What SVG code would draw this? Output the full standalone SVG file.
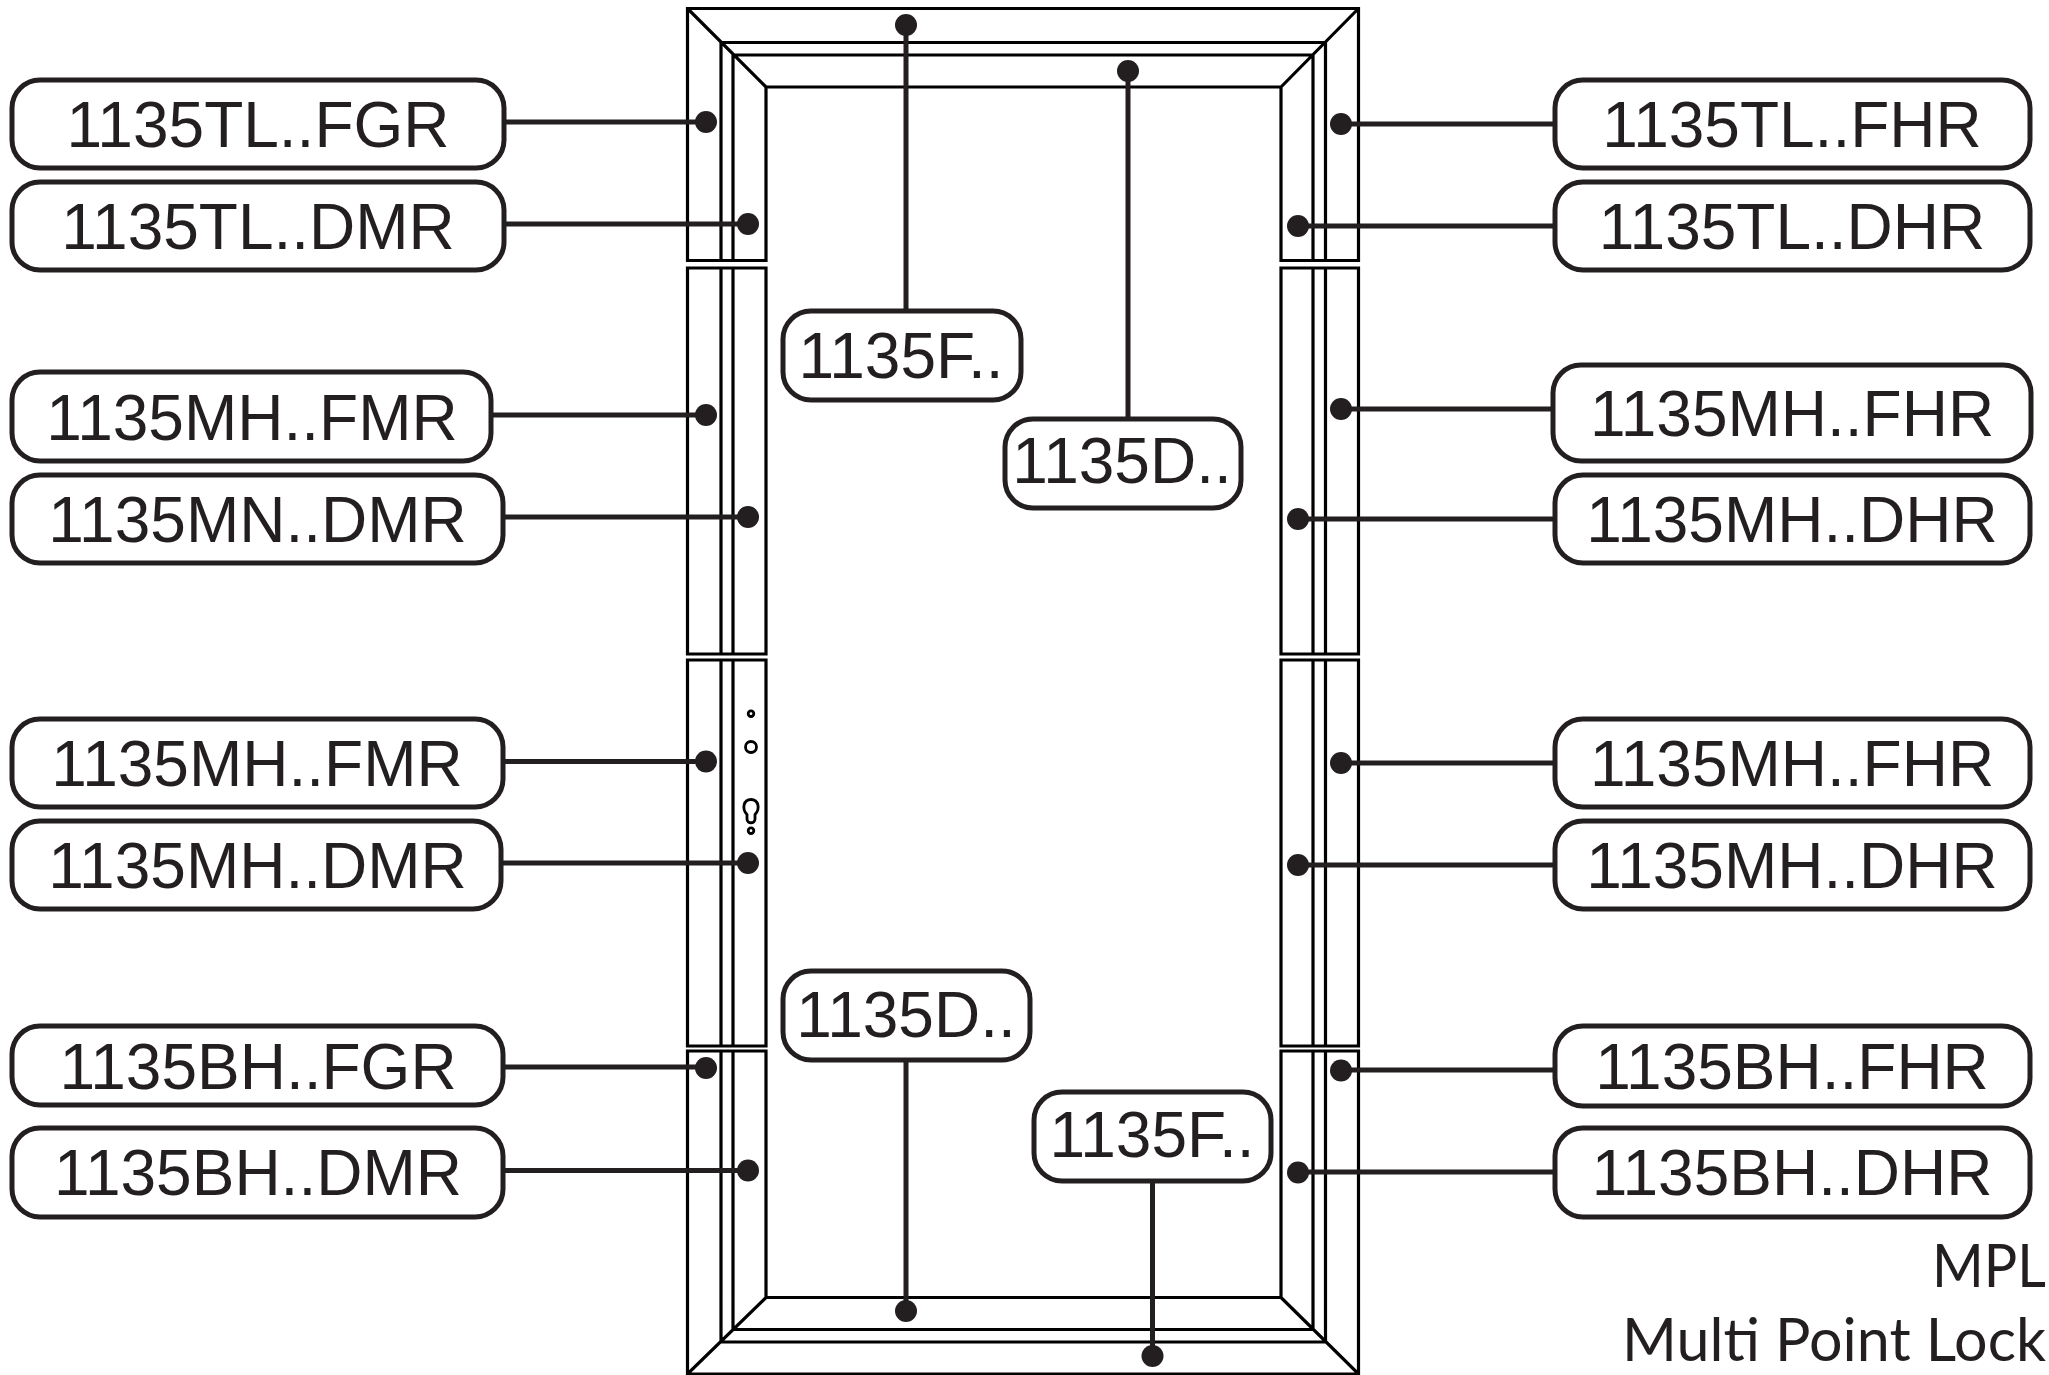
<svg xmlns="http://www.w3.org/2000/svg" width="2049" height="1375" viewBox="0 0 2049 1375">
<style>
.f{fill:none;stroke:#000;stroke-width:3.2}
.b{fill:#fff;stroke:#231f20;stroke-width:5}
.c{fill:none;stroke:#231f20;stroke-width:5}
.d{fill:#231f20}
.k{fill:none;stroke:#000;stroke-width:2.8}
text{font-family:"Liberation Sans",Arial,sans-serif;font-size:64px;fill:#231f20;text-anchor:middle}
.n{font-family:Lato,"Liberation Sans",sans-serif;font-size:60px;text-anchor:start}
</style>
<rect width="2049" height="1375" fill="#fff"/>
<g id="frame">
<path class="f" d="M687.5 260.5V8.5H1358.5V260.5H1281V87H766V260.5ZM687.5 8.5L766 87M1358.5 8.5L1281 87M721 42.5H1325.5M733 55H1313M721 42.5V260.5M733 55V260.5M1325.5 42.500V260.5M1313 55V260.5"/>
<path class="f" d="M687.5 268H766V654H687.5ZM721 268V654M733 268V654M1281 268H1358.5V654H1281ZM1313 268V654M1325.5 268V654"/>
<path class="f" d="M687.5 660H766V1046H687.5ZM721 660V1046M733 660V1046M1281 660H1358.5V1046H1281ZM1313 660V1046M1325.5 660V1046"/>
<path class="f" d="M687.5 1051V1374H1358.5V1051H1281V1297.5H766V1051ZM687.5 1374L766 1297.5M1358.5 1374L1281 1297.5M721 1342H1325.5M733 1329.5H1313M721 1051V1342M733 1051V1329.5M1325.5 1051V1342M1313 1051V1329.5"/>
<g id="lock">
<circle class="k" cx="751" cy="713.7" r="2.8"/>
<circle class="k" cx="751" cy="747" r="5.5"/>
<path class="k" d="M747 819V814.500C741.500 809 743.500 799.500 751 799.500C758.500 799.500 760.500 809 755 814.500V819C755 824 747 824 747 819Z"/>
<circle class="k" cx="751" cy="830.7" r="2.8"/>
</g>
</g>
<g id="connectors">
<path class="c" d="M504 122H706M504 224H748M491 415H706M503 517H748M503 761.500H706M501 863H748M503 1067H706M503 1170.500H748M1555 124H1341M1555 226H1298M1553 409H1341M1555 519H1298M1555 763H1341M1555 865H1298M1555 1070H1341M1555 1172H1298M906 311V25M1128 419V71M906 1060V1311M1152.500 1181V1356"/>
<g class="d">
<circle cx="706" cy="122" r="11"/><circle cx="748" cy="224" r="11"/><circle cx="706" cy="415" r="11"/><circle cx="748" cy="517" r="11"/><circle cx="706" cy="761.500" r="11"/><circle cx="748" cy="863" r="11"/><circle cx="706" cy="1068" r="11"/><circle cx="748" cy="1170.500" r="11"/>
<circle cx="1341" cy="124" r="11"/><circle cx="1298" cy="226" r="11"/><circle cx="1341" cy="409" r="11"/><circle cx="1298" cy="519" r="11"/><circle cx="1341" cy="763" r="11"/><circle cx="1298" cy="865" r="11"/><circle cx="1341" cy="1070.500" r="11"/><circle cx="1298" cy="1172.500" r="11"/>
<circle cx="906" cy="25" r="11"/><circle cx="1128" cy="71" r="11"/><circle cx="906" cy="1311" r="11"/><circle cx="1152.500" cy="1356" r="11"/>
</g>
</g>
<g id="n1"><rect class="b" x="12" y="80" width="492" height="88" rx="28"/><text x="258" y="147">1135TL..FGR</text></g>
<g id="n2"><rect class="b" x="12" y="182" width="492" height="88" rx="28"/><text x="258" y="249">1135TL..DMR</text></g>
<g id="n3"><rect class="b" x="12" y="372" width="479" height="89" rx="28"/><text x="252" y="440">1135MH..FMR</text></g>
<g id="n4"><rect class="b" x="12" y="475" width="491" height="88" rx="28"/><text x="257.500" y="542">1135MN..DMR</text></g>
<g id="n5"><rect class="b" x="12" y="719" width="491" height="88" rx="28"/><text x="257" y="786">1135MH..FMR</text></g>
<g id="n6"><rect class="b" x="12" y="821" width="489" height="88" rx="28"/><text x="257.500" y="888">1135MH..DMR</text></g>
<g id="n7"><rect class="b" x="12" y="1026" width="491" height="79" rx="28"/><text x="258" y="1089">1135BH..FGR</text></g>
<g id="n8"><rect class="b" x="12" y="1128" width="491" height="89" rx="28"/><text x="258" y="1195">1135BH..DMR</text></g>
<g id="n9"><rect class="b" x="1555" y="80" width="475" height="88" rx="28"/><text x="1792" y="147">1135TL..FHR</text></g>
<g id="n10"><rect class="b" x="1555" y="182" width="475" height="88" rx="28"/><text x="1792" y="249">1135TL..DHR</text></g>
<g id="n11"><rect class="b" x="1553" y="365" width="478" height="96" rx="28"/><text x="1792" y="436">1135MH..FHR</text></g>
<g id="n12"><rect class="b" x="1555" y="475" width="475" height="88" rx="28"/><text x="1792" y="542">1135MH..DHR</text></g>
<g id="n13"><rect class="b" x="1555" y="719" width="475" height="88" rx="28"/><text x="1792" y="786">1135MH..FHR</text></g>
<g id="n14"><rect class="b" x="1555" y="821" width="475" height="88" rx="28"/><text x="1792" y="888">1135MH..DHR</text></g>
<g id="n15"><rect class="b" x="1555" y="1026" width="475" height="80" rx="28"/><text x="1792" y="1089">1135BH..FHR</text></g>
<g id="n16"><rect class="b" x="1555" y="1128" width="475" height="89" rx="28"/><text x="1792" y="1195">1135BH..DHR</text></g>
<g id="n17"><rect class="b" x="783" y="311" width="238" height="89" rx="28"/><text x="901" y="378">1135F..</text></g>
<g id="n18"><rect class="b" x="1005" y="419" width="236" height="89" rx="28"/><text x="1122" y="483">1135D..</text></g>
<g id="n19"><rect class="b" x="783" y="971" width="247" height="89" rx="28"/><text x="906" y="1037">1135D..</text></g>
<g id="n20"><rect class="b" x="1034" y="1092" width="237" height="89" rx="28"/><text x="1152" y="1157">1135F..</text></g>
<text class="n" x="1932" y="1287" textLength="114" lengthAdjust="spacingAndGlyphs">MPL</text>
<text class="n" x="1622" y="1361" textLength="424" lengthAdjust="spacingAndGlyphs">Multi Point Lock</text>
</svg>
